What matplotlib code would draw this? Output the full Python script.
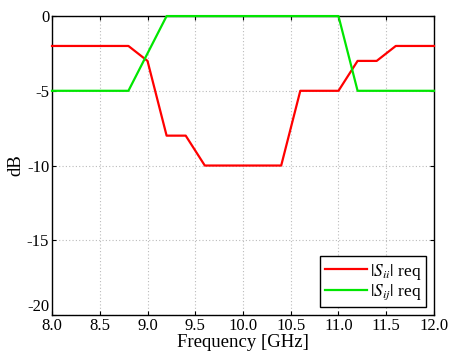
import matplotlib
matplotlib.use("Agg")
import matplotlib.pyplot as plt

plt.rcParams['font.family'] = ['Liberation Serif', 'DejaVu Serif']
plt.rcParams['mathtext.fontset'] = 'stix'

sii_f = [8.0, 8.8, 9.0, 9.2, 9.4, 9.6, 10.4, 10.6, 11.0, 11.2, 11.4, 11.6, 12.0]
sii_db = [-2, -2, -3, -8, -8, -10, -10, -5, -5, -3, -3, -2, -2]
sij_f = [8.0, 8.8, 9.2, 11.0, 11.2, 12.0]
sij_db = [-5, -5, 0, 0, -5, -5]
xticks = [8.0, 8.5, 9.0, 9.5, 10.0, 10.5, 11.0, 11.5, 12.0]
yticks = [-20, -15, -10, -5, 0]

fig = plt.figure(figsize=(4.5, 3.57), dpi=100)
ax = fig.add_axes([0.1156, 0.1176, 0.8488, 0.8374])
ax.plot(sii_f, sii_db, color=(1, 0, 0), lw=1.6, label=r'$|S_{ii}|$ req',
        clip_on=False, zorder=5)
ax.plot(sij_f, sij_db, color=(0, 0.9, 0), lw=1.6, label=r'$|S_{ij}|$ req',
        clip_on=False, zorder=5)
ax.set_xlim(8, 12)
ax.set_ylim(-20, 0)
ax.set_xticks(xticks)
ax.set_xticklabels([f'{t:.1f}' for t in xticks])
ax.set_yticks(yticks)
ax.set_yticklabels([f'{t}' for t in yticks])
ax.tick_params(direction='in', top=True, right=True, labelsize=12, length=3, pad=2)
ax.get_yticklabels()[0].set_verticalalignment('bottom')
ax.grid(True, linestyle=(0, (1, 2)), color='#bbbbbb', linewidth=0.8)
ax.set_xlabel('Frequency [GHz]', fontsize=13.5, labelpad=0)
ax.set_ylabel('dB', fontsize=13.5, labelpad=2)
for s in ax.spines.values():
    s.set_linewidth(1.0)
leg = ax.legend(loc='lower right', fontsize=12.5, fancybox=False, framealpha=1,
                edgecolor='black', borderaxespad=0.45, handlelength=2.4,
                borderpad=0.3, labelspacing=0.05, handletextpad=0.15)
leg.get_frame().set_linewidth(1.0)
leg.set_zorder(10)
fig.savefig('out.png', dpi=100)
